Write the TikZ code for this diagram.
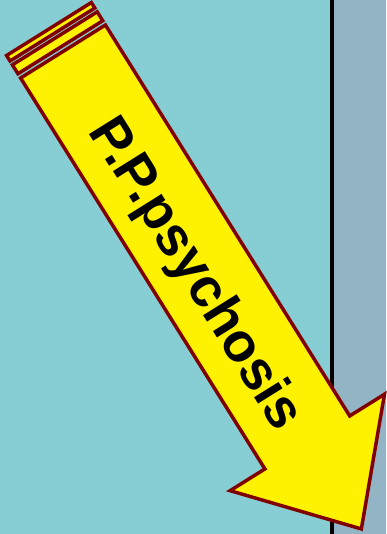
\documentclass[tikz,border=0pt]{standalone}
\usepackage{fontspec}
\setmainfont{Liberation Sans}

\definecolor{seabg}{RGB}{135,206,212}
\definecolor{sidebg}{RGB}{147,180,196}
\definecolor{arrowline}{RGB}{128,0,0}

\begin{document}
\begin{tikzpicture}[x=0.75pt, y=0.75pt, every node/.style={font=\bfseries\fontsize{41}{49}\selectfont}]
    \useasboundingbox (0,0) rectangle (386,534);

    % Fondo
    \fill[seabg] (0,0) rectangle (332,534);
    \fill[sidebg] (332,0) rectangle (386,534);
    \draw[line width=3pt] (332,0) -- (332,534);

    % Flecha
    \begin{scope}[shift={(63,482.5)}, rotate=-58,
        arrowpart/.style={draw=arrowline, fill=yellow, line width=2.6pt, line join=miter}]
        \draw[arrowpart] (-26.5,-50) rectangle (-20,50);
        \draw[arrowpart] (-15.5,-50) rectangle (-5,50);
        \draw[arrowpart] (0,-50) -- (461,-50) -- (461,-91) -- (563,0)
            -- (461,91) -- (461,50) -- (0,50) -- cycle;
        \node[rotate=-58, anchor=base] (label) at (259,-21) {P.P.psychosis};
    \end{scope}
\end{tikzpicture}
\end{document}
